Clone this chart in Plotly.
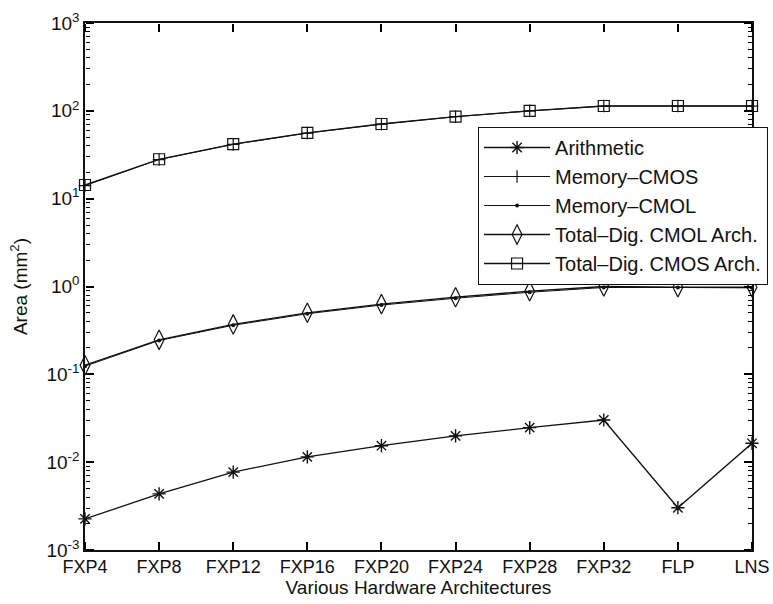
import plotly.graph_objects as go

# Hardware architectures on the x axis
architectures = ["FXP4", "FXP8", "FXP12", "FXP16", "FXP20",
                 "FXP24", "FXP28", "FXP32", "FLP", "LNS"]

# Area in mm^2 for each component / architecture
arithmetic = [0.00226, 0.00435, 0.0077, 0.0115, 0.0154,
              0.0199, 0.0247, 0.0302, 0.00303, 0.0164]
memory_cmos = [14.1, 27.9, 41.5, 55.8, 70.6,
               85.8, 99.8, 113.3, 113.3, 113.3]
memory_cmol = [0.124, 0.243, 0.362, 0.49, 0.615,
               0.735, 0.86, 0.975, 0.975, 0.965]
total_cmol = [0.127, 0.247, 0.37, 0.502, 0.63,
              0.755, 0.885, 1.0, 0.98, 0.98]
total_cmos = [14.3, 28.1, 41.8, 56.0, 70.8,
              86.0, 100.0, 113.5, 113.5, 113.5]

ytick_vals = [1e-3, 1e-2, 1e-1, 1e0, 1e1, 1e2, 1e3]
ytick_text = ["10<sup>-3</sup>", "10<sup>-2</sup>", "10<sup>-1</sup>",
              "10<sup>0</sup>", "10<sup>1</sup>", "10<sup>2</sup>",
              "10<sup>3</sup>"]
# minor log ticks 2..9 within each decade
ytick_minor = [m * 10.0 ** e for e in range(-3, 3) for m in range(2, 10)]

FONT = "Liberation Sans, Arial, Helvetica, sans-serif"
INK = "#111111"

series = [
    ("Arithmetic", arithmetic, dict(symbol="asterisk-open", size=11,
                                    line=dict(width=1.4, color=INK))),
    ("Memory\u2013CMOS", memory_cmos, dict(symbol="cross-thin-open", size=9,
                                          line=dict(width=1.2, color=INK))),
    ("Memory\u2013CMOL", memory_cmol, dict(symbol="circle", size=4)),
    ("Total\u2013Dig. CMOL Arch.", total_cmol,
     dict(symbol="diamond-tall-open", size=14, line=dict(width=1.2, color=INK))),
    ("Total\u2013Dig. CMOS Arch.", total_cmos,
     dict(symbol="square-open", size=11, line=dict(width=1.2, color=INK))),
]

x_idx = list(range(len(architectures)))

fig = go.Figure()
for name, vals, marker in series:
    width = 1.0 if name.startswith("Memory") else 1.3
    fig.add_trace(go.Scatter(
        x=x_idx, y=vals, name=name,
        mode="lines+markers",
        line=dict(color=INK, width=width),
        marker=dict(color=INK, **marker),
        cliponaxis=False,
    ))

# placeholder traces so the tick-only frame axes get drawn
for xa, ya in (("x2", "y2"), ("x3", "y3")):
    fig.add_trace(go.Scatter(x=[None], y=[None], xaxis=xa, yaxis=ya,
                             showlegend=False, hoverinfo="skip"))


# frame axes: outside ticks on an axis sitting on the opposite edge
# point into the plot area on all four sides
def frame_x(side, pos):
    return dict(overlaying="x", matches="x", tickmode="array", tickvals=x_idx,
                anchor="free", position=pos, side=side,
                ticks="outside", ticklen=8, tickwidth=1.6, tickcolor="#000000",
                showgrid=False, zeroline=False, showticklabels=False,
                showline=False)


def frame_y(side, pos):
    return dict(overlaying="y", type="log", range=[-3, 3], tickmode="array",
                tickvals=ytick_vals, anchor="free", position=pos, side=side,
                ticks="outside", ticklen=8, tickwidth=1.6, tickcolor="#000000",
                minor=dict(tickmode="array", tickvals=ytick_minor,
                           ticks="outside", ticklen=4, tickwidth=1.3,
                           tickcolor="#000000", showgrid=False),
                showgrid=False, zeroline=False, showticklabels=False,
                showline=False)


fig.update_layout(
    width=773, height=604,
    margin=dict(l=85, r=21, t=23, b=54, autoexpand=False),
    paper_bgcolor="white", plot_bgcolor="white",
    font=dict(family=FONT, color=INK, size=19),
    showlegend=True,
    legend=dict(
        x=0.589, y=0.803, xanchor="left", yanchor="top",
        bordercolor=INK, borderwidth=1.2, bgcolor="white",
        font=dict(size=20, family=FONT),
        itemwidth=66,
    ),
    xaxis=dict(
        range=[0, 9], tickmode="array",
        tickvals=x_idx, ticktext=architectures, ticks="",
        showline=True, linecolor=INK, linewidth=1.5, mirror=True,
        showgrid=False, zeroline=False,
        tickfont=dict(size=18),
        title=dict(text="Various Hardware Architectures",
                   font=dict(size=19), standoff=2),
    ),
    xaxis2=frame_x("top", 0),
    xaxis3=frame_x("bottom", 1),
    yaxis=dict(
        type="log", range=[-3, 3], tickmode="array",
        tickvals=ytick_vals, ticktext=ytick_text, ticks="",
        showline=True, linecolor=INK, linewidth=1.5, mirror=True,
        showgrid=False, zeroline=False,
        tickfont=dict(size=19),
        title=dict(text="Area (mm<sup>2</sup>)", font=dict(size=19),
                   standoff=14),
    ),
    yaxis2=frame_y("right", 0),
    yaxis3=frame_y("left", 1),
)

fig.write_html("out.html")
